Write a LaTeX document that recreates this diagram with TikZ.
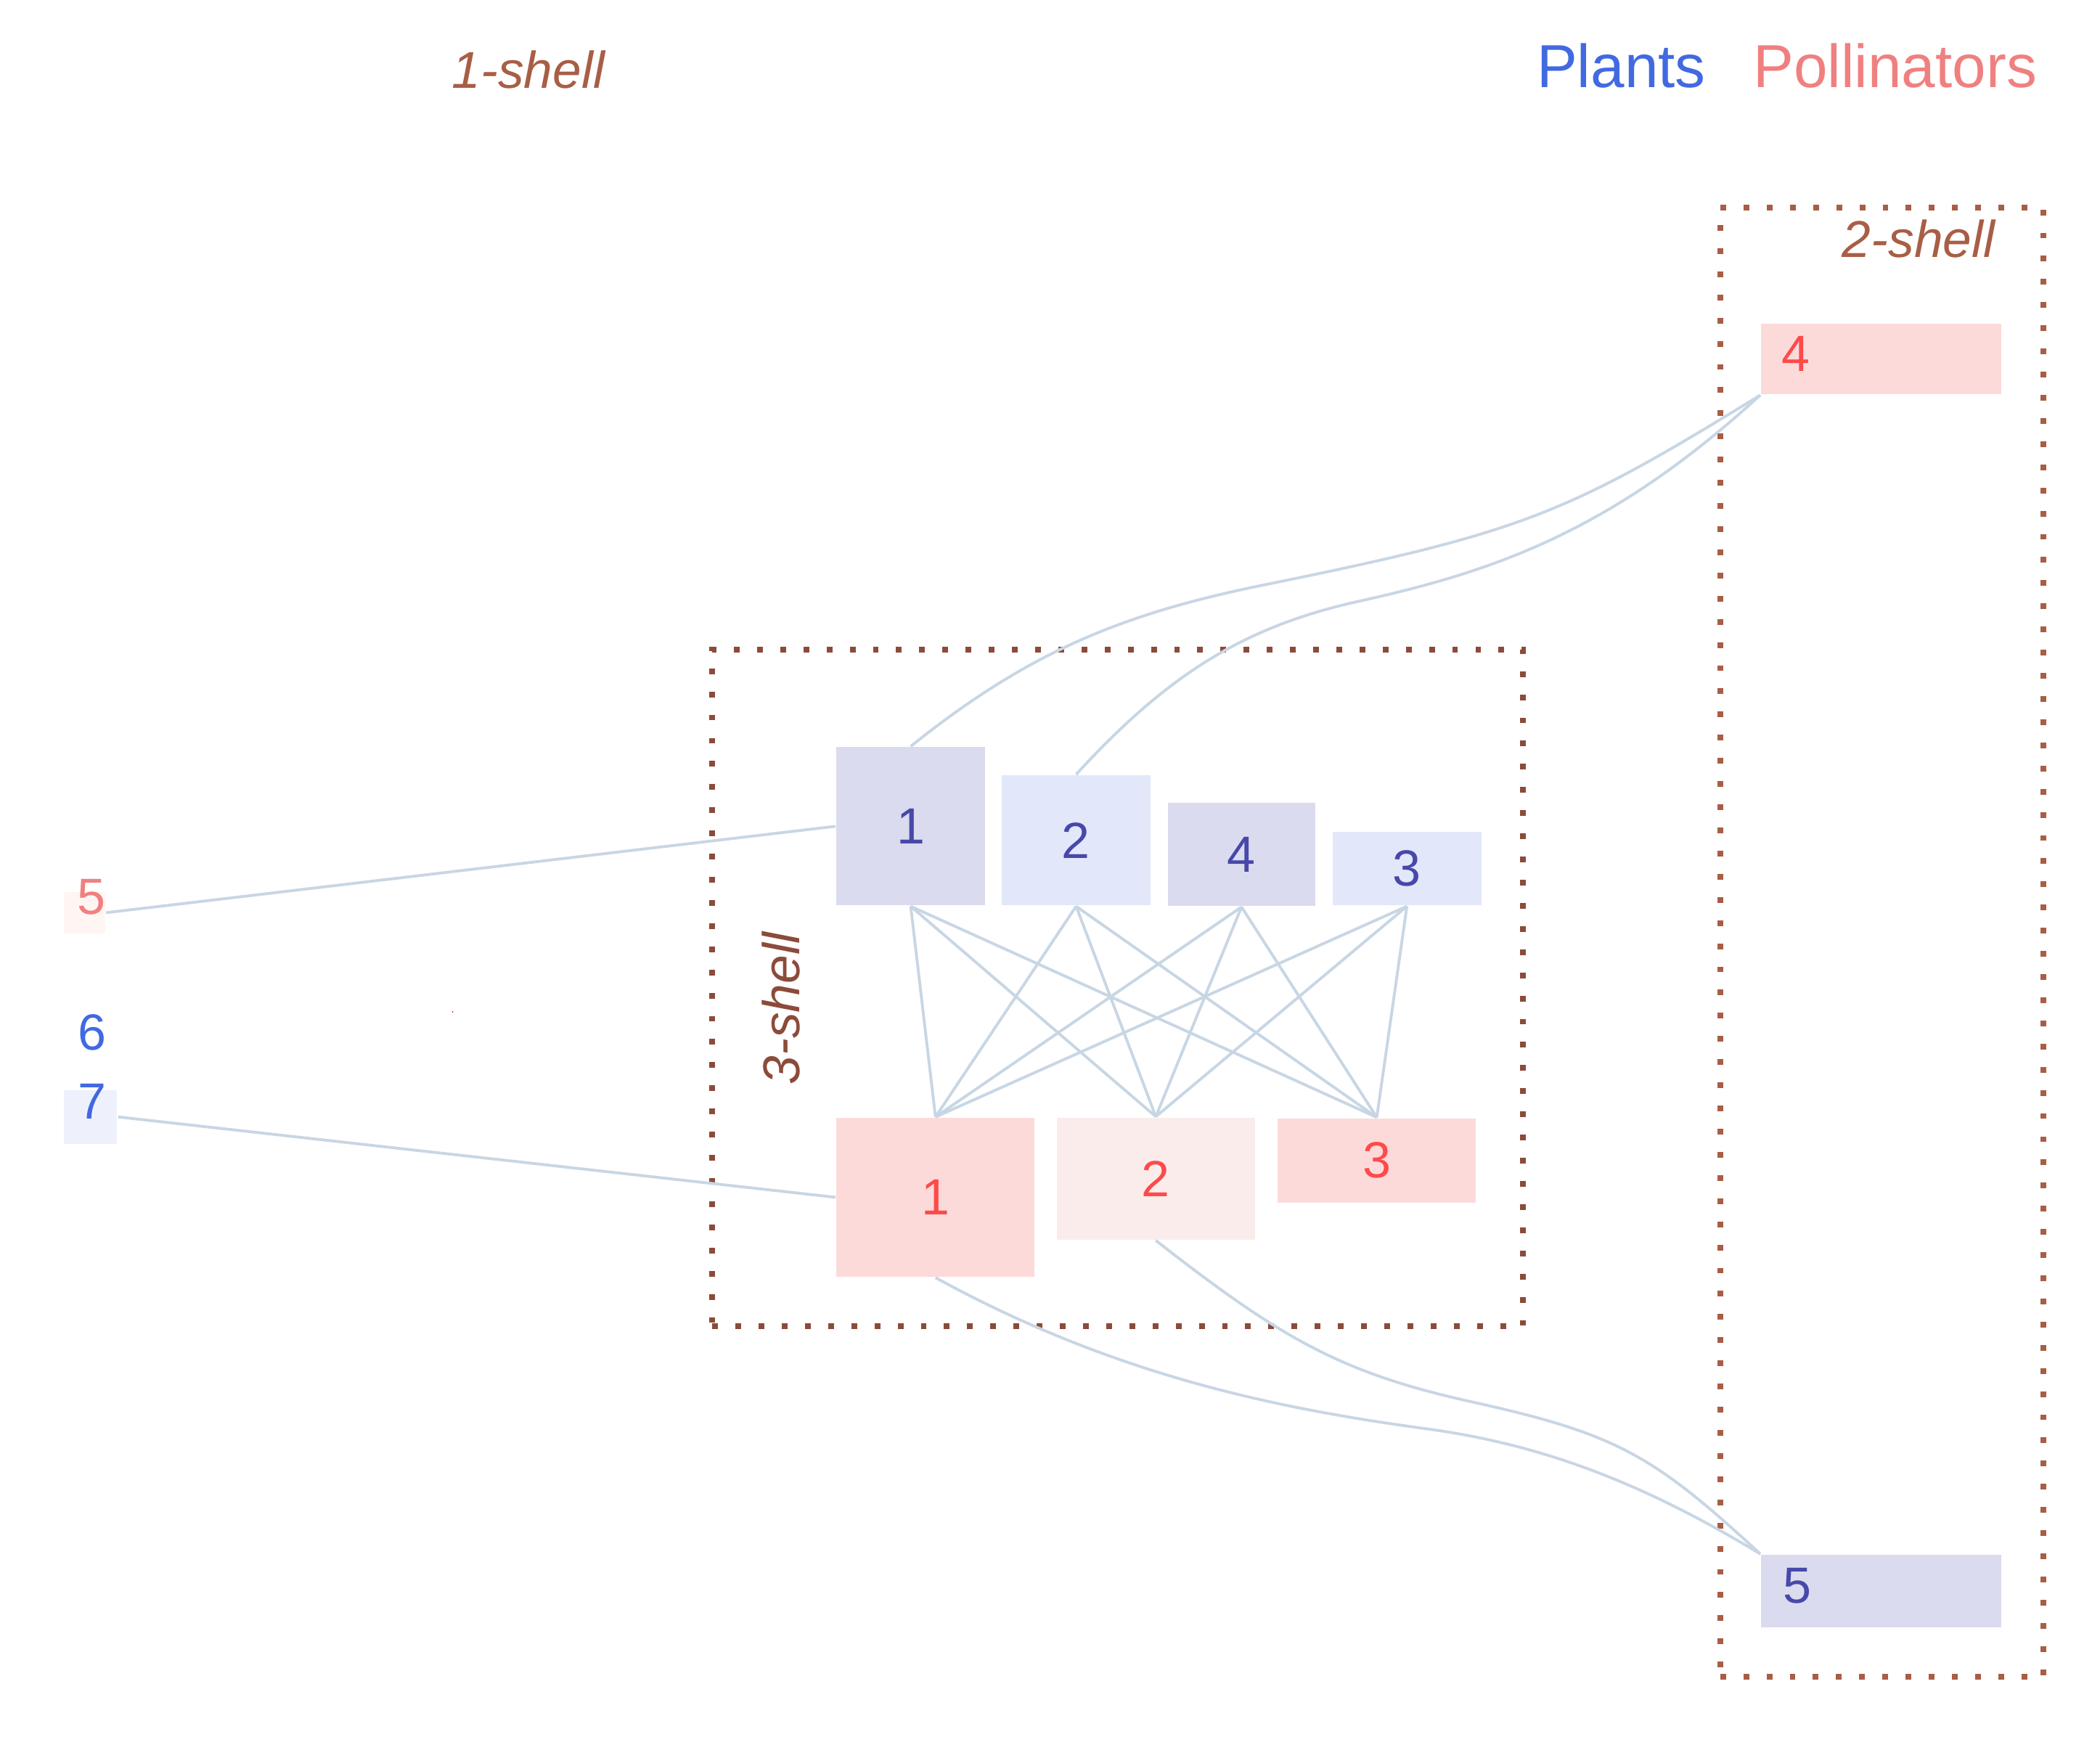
\documentclass[tikz,border=0pt]{standalone}
\usepackage{fontspec}
\setmainfont{Liberation Sans}
\usetikzlibrary{positioning}

\definecolor{plantcol}{HTML}{4169E1}
\definecolor{polcol}{HTML}{F08080}
\definecolor{planttext}{HTML}{4848AA}
\definecolor{poltext}{HTML}{FF4A4A}
\definecolor{plantdark}{HTML}{DADBEE}
\definecolor{plantlight}{HTML}{E2E7FA}
\definecolor{plantpale}{HTML}{EEF0FC}
\definecolor{poldark}{HTML}{FDDADA}
\definecolor{pollight}{HTML}{FBECEC}
\definecolor{polpale}{HTML}{FFF5F3}
\definecolor{shellcol}{HTML}{A85E45}
\definecolor{shellthree}{HTML}{8C4B3A}
\definecolor{edgecol}{HTML}{C8D6E4}

\begin{document}
\begin{tikzpicture}[
    x=0.01cm, y=-0.01cm,
    box/.style={rectangle, inner sep=0pt, draw=none},
    num/.style={font=\fontsize{10.8}{13}\selectfont, inner sep=0pt},
    plantnode/.style={box, num, text=planttext},
    polnode/.style={box, num, text=poltext},
    edge/.style={draw=edgecol, line width=0.6pt},
    shellbox/.style={rectangle, inner sep=0pt, line width=1.22pt, dash pattern=on 1.22pt off 3.7pt},
    shelllbl/.style={font=\fontsize{11}{13}\selectfont\itshape, inner sep=0pt},
    legend/.style={font=\fontsize{12.9}{15}\selectfont, inner sep=0pt}
]
\useasboundingbox (0,0) rectangle (1568,1297);

% Shells
\node[shellbox, draw=shellthree, minimum width=6.05cm, minimum height=5.05cm] (shell3) at (834.5,737.5) {};
\node[shellbox, draw=shellcol, minimum width=2.41cm, minimum height=10.96cm] (shell2) at (1405,703.5) {};

\node[shelllbl, text=shellcol] (lbl1) at (394.5,52) {1-shell};
\node[shelllbl, text=shellcol] (lbl2) at (1432.5,178.5) {2-shell};
\node[shelllbl, text=shellthree, rotate=90] (lbl3) at (583,753) {3-shell};

% Legend
\node[legend, text=plantcol] (plants) at (1210.5,49) {Plants};
\node[legend, text=polcol] (pollinators) at (1415,49) {Pollinators};

% 3-shell: plants
\node[plantnode, fill=plantdark, minimum width=1.11cm, minimum height=1.18cm] (pl1) at (680,617) {1};
\node[plantnode, fill=plantlight, minimum width=1.11cm, minimum height=0.97cm] (pl2) at (803.5,627.5) {2};
\node[plantnode, fill=plantdark, minimum width=1.10cm, minimum height=0.77cm] (pl4) at (927,638) {4};
\node[plantnode, fill=plantlight, minimum width=1.11cm, minimum height=0.55cm] (pl3) at (1050.5,648.5) {3};

% 3-shell: pollinators
\node[polnode, fill=poldark, minimum width=1.48cm, minimum height=1.185cm] (po1) at (698.5,894) {1};
\node[polnode, fill=pollight, minimum width=1.48cm, minimum height=0.91cm] (po2) at (863,880) {2};
\node[polnode, fill=poldark, minimum width=1.48cm, minimum height=0.63cm] (po3) at (1028,866.5) {3};

% 2-shell
\node[box, fill=poldark, minimum width=1.79cm, minimum height=0.526cm] (po4) at (1404.6,268) {};
\node[num, text=poltext] (po4lbl) at (1341,264) {4};
\node[box, fill=plantdark, minimum width=1.79cm, minimum height=0.54cm] (pl5) at (1404.6,1188) {};
\node[num, text=planttext] (pl5lbl) at (1342,1184) {5};

% 1-shell
\node[box, fill=polpale, minimum width=0.31cm, minimum height=0.31cm] (po5) at (63,681.5) {};
\node[num, text=polcol] (po5lbl) at (68.4,670) {5};
\node[num, text=plantcol] (pl6) at (69,771) {6};
\node[box, fill=plantpale, minimum width=0.40cm, minimum height=0.40cm] (pl7) at (67.5,834) {};
\node[num, text=plantcol] (pl7lbl) at (69,822.5) {7};
\fill[red] (338,755.5) circle[radius=0.15pt];

% Links inside the 3-shell
\foreach \i in {1,2,3,4}
    \foreach \j in {1,2,3} {
        \draw[edge] (pl\i.south) -- (po\j.north);
    }

% Links to the outer shells
\draw[edge] (po5.east) -- (pl1.west);
\draw[edge] (pl7.east) -- (po1.west);

\coordinate (bendA) at (942.6,437);
\coordinate (bendB) at (1010,450);
\coordinate (bendC) at (1066,1067);
\coordinate (bendD) at (1100,1047);

\draw[edge] (pl1.north) .. controls (765.5,488.8) and (834.8,458.9) .. (bendA)
    .. controls (1138.6,397.2) and (1170,383.7) .. (po4.south west);
\draw[edge] (pl2.north) .. controls (870.9,504.7) and (927.2,469.1) .. (bendB)
    .. controls (1110,428) and (1200,400) .. (po4.south west);
\draw[edge] (po1.south) .. controls (839,1031.1) and (966.9,1053.4) .. (bendC)
    .. controls (1155.2,1079.2) and (1229.8,1109.3) .. (pl5.north west);
\draw[edge] (po2.south) .. controls (958.2,1000.7) and (1002.4,1025.4) .. (bendD)
    .. controls (1207.4,1070.8) and (1234.6,1086.7) .. (pl5.north west);

\end{tikzpicture}
\end{document}
